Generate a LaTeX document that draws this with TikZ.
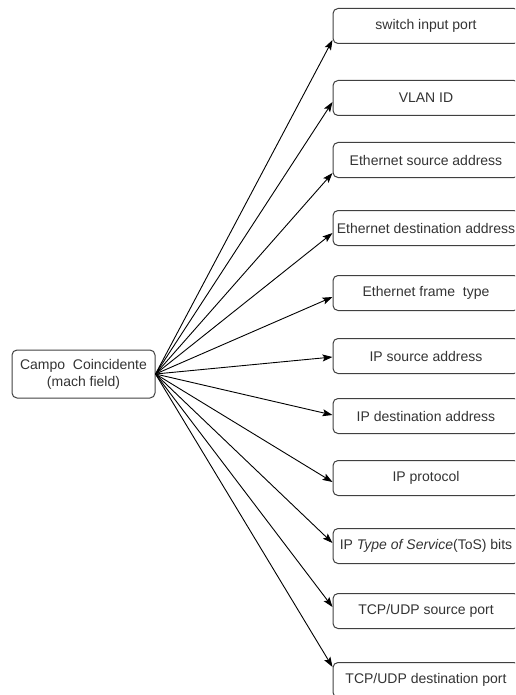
\documentclass[tikz,border=0pt]{standalone}
\usepackage{fontspec}
\setmainfont{Liberation Sans}
\usetikzlibrary{arrows.meta}
\begin{document}
\begin{tikzpicture}[x=1pt,y=-1pt,
  field/.style={draw=black!75, rounded corners=5pt, line width=1pt,
    minimum width=186pt, minimum height=35pt, inner sep=0pt,
    font=\fontsize{14}{17}\selectfont, text=black!80},
  src/.style={draw=black!75, rounded corners=5pt, line width=1pt,
    minimum width=143pt, minimum height=48pt, inner sep=0pt, align=center,
    font=\fontsize{14}{17}\selectfont, text=black!80},
  link/.style={-{Stealth[length=10pt,width=7pt,inset=2pt]}, line width=0.9pt, black}]
\useasboundingbox (0,0) rectangle (515,695);
\clip (0,0) rectangle (515,695);

% match field node
\node[src] (src) at (83.5,374) {Campo\ \ Coincidente\\(mach field)};

% header fields
\node[field] (f1)  at (426,26)  {switch input port};
\node[field] (f2)  at (426,98)  {VLAN ID};
\node[field] (f3)  at (426,160) {Ethernet source address};
\node[field] (f4)  at (426,228) {Ethernet destination address};
\node[field] (f5)  at (426,293) {Ethernet frame\ \ type};
\node[field] (f6)  at (426,356) {IP source address};
\node[field] (f7)  at (426,416) {IP destination address};
\node[field] (f8)  at (426,478) {IP protocol};
\node[field] (f9)  at (426,546) {IP \textit{Type of Service}(ToS) bits};
\node[field] (f10) at (426,611) {TCP/UDP source port};
\node[field] (f11) at (426,680) {TCP/UDP destination port};

% connectors
\draw[link] (src.east) -- ([yshift=-14pt]f1.west);
\draw[link] (src.east) -- ([yshift=-4pt]f2.west);
\draw[link] (src.east) -- ([yshift=-13pt]f3.west);
\draw[link] (src.east) -- ([yshift=-5pt]f4.west);
\draw[link] (src.east) -- ([yshift=-4pt]f5.west);
\draw[link] (src.east) -- ([yshift=-1pt]f6.west);
\draw[link] (src.east) -- ([yshift=1pt]f7.west);
\draw[link] (src.east) -- ([yshift=-4pt]f8.west);
\draw[link] (src.east) -- ([yshift=3pt]f9.west);
\draw[link] (src.east) -- ([yshift=4pt]f10.west);
\draw[link] (src.east) -- ([yshift=13pt]f11.west);
\end{tikzpicture}
\end{document}
